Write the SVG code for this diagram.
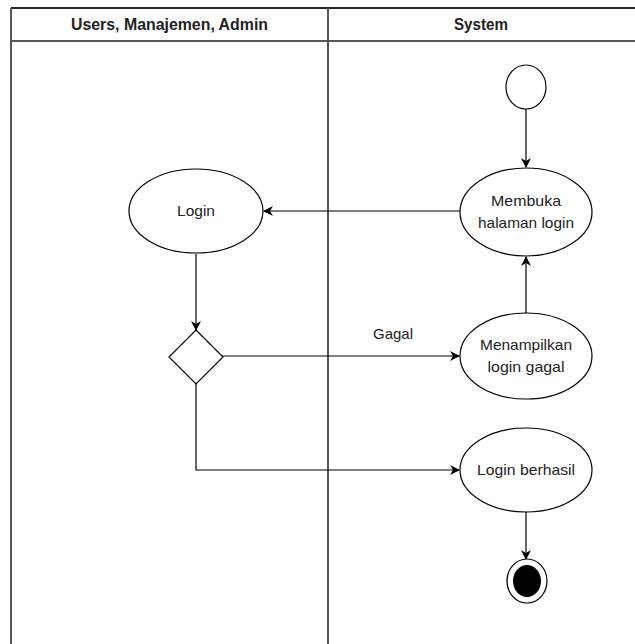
<svg xmlns="http://www.w3.org/2000/svg" width="635" height="644" viewBox="0 0 635 644">
<style>
.lane{fill:none;stroke:#555;stroke-width:2}
.node{fill:#fff;stroke:#000;stroke-width:1.2}
.edge{fill:none;stroke:#000;stroke-width:1.2}
.hd{font-family:"Liberation Sans",Arial,sans-serif;font-weight:bold;font-size:16px;fill:#222;text-anchor:middle}
.t{font-family:"Liberation Sans",Arial,sans-serif;font-size:15px;fill:#222;text-anchor:middle}
</style>
<defs>
<marker id="arr" viewBox="0 0 10 10" refX="9" refY="5" markerWidth="10" markerHeight="10" markerUnits="userSpaceOnUse" orient="auto">
<path d="M0,0 L10,5 L0,10 L3,5 Z" fill="#000"/>
</marker>
</defs>
<rect width="635" height="644" fill="#fff"/>
<g id="lanes">
<line class="lane" x1="11" y1="8" x2="635" y2="8" style="stroke:#222"/>
<line class="lane" x1="11" y1="41" x2="635" y2="41"/>
<line class="lane" x1="11" y1="8" x2="11" y2="644"/>
<line class="lane" x1="328" y1="8" x2="328" y2="644"/>
<text class="hd" x="169.5" y="30" textLength="197" lengthAdjust="spacingAndGlyphs">Users, Manajemen, Admin</text>
<text class="hd" x="481" y="30" textLength="54" lengthAdjust="spacingAndGlyphs">System</text>
</g>
<g id="edges">
<line class="edge" x1="526" y1="109" x2="526" y2="167" marker-end="url(#arr)"/>
<line class="edge" x1="460" y1="211" x2="264" y2="211" marker-end="url(#arr)"/>
<line class="edge" x1="196" y1="254" x2="196" y2="330" marker-end="url(#arr)"/>
<line class="edge" x1="222" y1="356" x2="459" y2="356" marker-end="url(#arr)"/>
<text class="t" x="393" y="339" textLength="40" lengthAdjust="spacingAndGlyphs">Gagal</text>
<line class="edge" x1="526" y1="313" x2="526" y2="257" marker-end="url(#arr)"/>
<polyline class="edge" points="196,384 196,470 459,470" marker-end="url(#arr)"/>
<line class="edge" x1="526" y1="512" x2="526" y2="559" marker-end="url(#arr)"/>
</g>
<g id="start"><ellipse class="node" cx="526" cy="87" rx="20" ry="22"/></g>
<g id="membuka"><ellipse class="node" cx="526" cy="212" rx="66" ry="44"/>
<text class="t" x="526" y="206" textLength="70" lengthAdjust="spacingAndGlyphs">Membuka</text><text class="t" x="526" y="228" textLength="96" lengthAdjust="spacingAndGlyphs">halaman login</text></g>
<g id="login"><ellipse class="node" cx="196" cy="211" rx="67" ry="42"/>
<text class="t" x="196" y="216" textLength="38" lengthAdjust="spacingAndGlyphs">Login</text></g>
<g id="decision"><polygon class="node" points="196,330 223,357 196,384 169,357"/></g>
<g id="gagal"><ellipse class="node" cx="526" cy="356" rx="66" ry="43"/>
<text class="t" x="526" y="350" textLength="92" lengthAdjust="spacingAndGlyphs">Menampilkan</text><text class="t" x="526" y="372" textLength="77" lengthAdjust="spacingAndGlyphs">login gagal</text></g>
<g id="berhasil"><ellipse class="node" cx="526" cy="470" rx="66" ry="42"/>
<text class="t" x="526" y="475" textLength="98" lengthAdjust="spacingAndGlyphs">Login berhasil</text></g>
<g id="end"><ellipse class="node" cx="527" cy="581" rx="20" ry="22"/>
<ellipse cx="527" cy="581" rx="14" ry="16" fill="#000"/></g>
</svg>
